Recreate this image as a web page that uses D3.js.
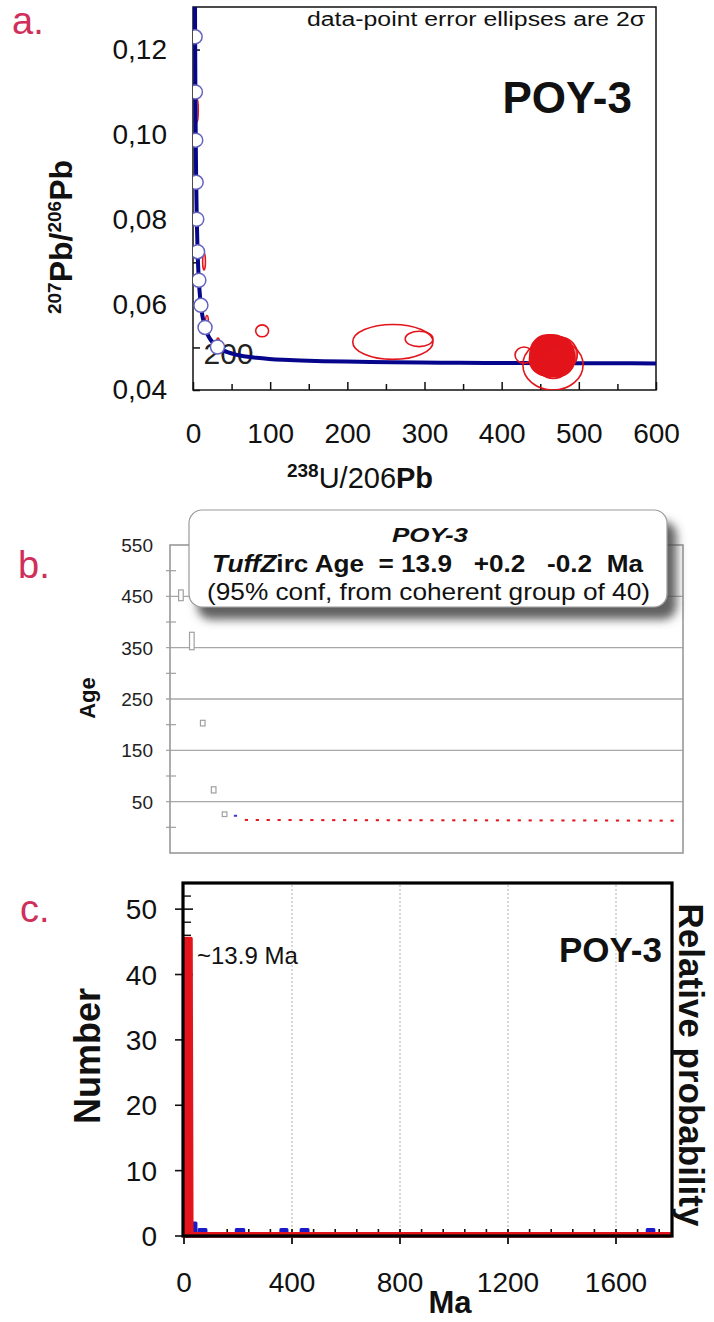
<!DOCTYPE html>
<html><head><meta charset="utf-8">
<script src="https://cdn.jsdelivr.net/npm/d3@7/dist/d3.min.js"></script>
<style>
html,body{margin:0;padding:0;background:#fff;}
svg{display:block;font-family:'Liberation Sans',Arial,Helvetica,sans-serif;}
</style></head>
<body>
<svg id="chart" width="714" height="1322"></svg>
<script>
// ---------------- DATA ----------------
// Panel a: Tera-Wasserburg concordia
const decay238 = 0.155125e-3;   // per Ma
const decay235 = 0.98485e-3;    // per Ma
const u238u235 = 137.88;
const concordiaAges = [10.5,12,14,17,20,25,30,38,46,55,65,78,90,105,120,140,160,185,210,240,280,330,400,500,600,700,800,1000,1200,1400,1600,1800,2000,2200,2400,2600];
const markerAges = [200,400,600,800,1000,1200,1400,1600,1800,2000];
const labelledAge = 200;
const aXTicks = [0,100,200,300,400,500,600];
const aXMinor = [50,150,250,350,450,550];
const aYTicks = [0.04,0.06,0.08,0.10,0.12];
const aYMinor = [0.05,0.07,0.09,0.11];
// error ellipses: [238U/206Pb, 207Pb/206Pb, half-width x, half-height y]
const ellipseOutliers = [
  [5.2,0.1057,1.6,0.0027],
  [14.3,0.0702,1.8,0.0020],
  [18.1,0.0560,1.8,0.0015],
  [32.4,0.0504,2.2,0.0018],
  [89.6,0.0539,8.4,0.0014],
  [259,0.0513,52,0.0041],
  [293,0.0520,18,0.0018],
  [429,0.0482,11.7,0.0019],
  [466.5,0.0459,39,0.0059]
];
const ellipseCluster = [
  [462,0.0480,21,0.0040],[468,0.0478,22,0.0042],[458,0.0484,20,0.0038],[472,0.0482,21,0.0039],
  [465,0.0486,23,0.0041],[460,0.0474,20,0.0037],[470,0.0472,22,0.0040],[456,0.0478,19,0.0036],
  [475,0.0476,20,0.0038],[463,0.0490,21,0.0040],[467,0.0470,23,0.0043],[459,0.0488,22,0.0041],
  [473,0.0488,20,0.0037],[461,0.0476,24,0.0044],[469,0.0484,19,0.0035],[464,0.0482,22,0.0039],
  [457,0.0472,21,0.0038],[476,0.0484,22,0.0040],[466,0.0478,20,0.0042],[471,0.0490,21,0.0036],
  [462,0.0470,20,0.0039],[468,0.0492,19,0.0037],[460,0.0482,23,0.0043],[474,0.0470,20,0.0037],
  [465,0.0474,21,0.0040],[458,0.0490,20,0.0035],[470,0.0480,24,0.0044],[463,0.0486,22,0.0038],
  [467,0.0476,21,0.0041],[472,0.0474,22,0.0039],[461,0.0486,20,0.0040],[469,0.0488,21,0.0036],
  [464,0.0472,19,0.0038],[459,0.0480,22,0.0042],[471,0.0484,20,0.0039],[466,0.0482,21,0.0045]
];
// Panel b: TuffZirc age ranking
const bOlderAges = [452,363,203,73,25.5];
const bOlderErr  = [10.5,17,5.5,6,4.5];
const bRejectAges = [22.5];
const bRejectErr  = [1];
const bCoherentAges = [14.6,14.5,14.5,14.4,14.4,14.3,14.3,14.2,14.2,14.2,14.1,14.1,14.1,14.0,14.0,14.0,14.0,13.9,13.9,13.9,13.9,13.9,13.8,13.8,13.8,13.8,13.7,13.7,13.7,13.6,13.6,13.6,13.5,13.5,13.4,13.4,13.3,13.3,13.2,13.1];
const bCoherentErr = 0.6;
const bYLabels = [50,150,250,350,450,550];
const bYGrid = [50,150,250,350,450];
const bYMinor = [0,100,200,300,400,500];
// Panel c: histogram + relative probability
const cHistBins = [[0,28,42],[30,48,2],[52,85,1],[190,225,1],[355,385,1],[430,463,1],[1712,1744,1]]; // [from Ma, to Ma, count]
const cProbAge = [0,3,26,29,1800];
const cProbVal = [0,45.5,45.5,0.35,0.35];
const cXTicks = [0,400,800,1200,1600];
const cYTicks = [0,10,20,30,40,50];

// ---------------- DRAW ----------------
const svg = d3.select('#chart');
const FONT = "'Liberation Sans',Arial,Helvetica,sans-serif";
const PINK = '#cf2f5a';
const RED = '#e3141b';
const NAVY = '#06068c';

const defs = svg.append('defs');
defs.append('clipPath').attr('id','clipA').append('rect')
  .attr('x',193).attr('y',7).attr('width',463).attr('height',383);
const sh = defs.append('filter').attr('id','shadow').attr('x','-10%').attr('y','-20%').attr('width','130%').attr('height','160%');
sh.append('feDropShadow').attr('dx',9).attr('dy',12).attr('stdDeviation',5)
  .attr('flood-color','#444').attr('flood-opacity',0.85);

// ===== Panel a =====
const xA = d3.scaleLinear().domain([0,600]).range([193,656]);
const yA = d3.scaleLinear().domain([0.04,0.13]).range([390,7]);
const gA = svg.append('g');

svg.append('text').attr('x',12).attr('y',34).attr('fill',PINK)
  .style('font-size','38px').text('a.');

// x axis
const axA = gA.append('g').attr('transform','translate(0,390)')
  .call(d3.axisBottom(xA).tickValues(aXTicks).tickSizeInner(-8).tickSizeOuter(0).tickPadding(33));
axA.select('.domain').remove();
axA.selectAll('text').style('font-size','28px').style('font-family',FONT).attr('fill','#111');
axA.selectAll('line').attr('stroke','#111').attr('stroke-width',1.5);
const axAm = gA.append('g').attr('transform','translate(0,390)')
  .call(d3.axisBottom(xA).tickValues(aXMinor).tickSizeInner(-6).tickSizeOuter(0).tickFormat(''));
axAm.select('.domain').remove();
axAm.selectAll('line').attr('stroke','#111').attr('stroke-width',1.5);

// y axis
const ayA = gA.append('g').attr('transform','translate(193,0)')
  .call(d3.axisLeft(yA).tickValues(aYTicks).tickSizeInner(-7).tickSizeOuter(0).tickPadding(26)
    .tickFormat(d=>d.toFixed(2).replace('.',',')));
ayA.select('.domain').remove();
ayA.selectAll('text').style('font-size','28px').style('font-family',FONT).attr('fill','#111');
ayA.selectAll('line').attr('stroke','#111').attr('stroke-width',1.5);
const ayAm = gA.append('g').attr('transform','translate(193,0)')
  .call(d3.axisLeft(yA).tickValues(aYMinor).tickSizeInner(-7).tickSizeOuter(0).tickFormat(''));
ayAm.select('.domain').remove();
ayAm.selectAll('line').attr('stroke','#111').attr('stroke-width',1.5);

// frame
gA.append('rect').attr('x',193).attr('y',7).attr('width',463).attr('height',383)
  .attr('fill','none').attr('stroke','#111').attr('stroke-width',1.5);

// title texts
gA.append('text').attr('x',307).attr('y',26).attr('textLength',338).attr('lengthAdjust','spacingAndGlyphs')
  .style('font-size','20px').attr('fill','#111').text('data-point error ellipses are 2σ');
gA.append('text').attr('x',632).attr('y',113).attr('text-anchor','end')
  .style('font-size','44px').style('font-weight','bold').attr('fill','#111').text('POY-3');

// axis titles
const yt = gA.append('text').attr('transform','translate(72,237) rotate(-90)')
  .attr('text-anchor','middle').attr('fill','#111').style('font-weight','bold');
yt.append('tspan').style('font-size','19px').attr('dy',-11).text('207');
yt.append('tspan').style('font-size','32px').attr('dy',11).text('Pb/');
yt.append('tspan').style('font-size','19px').attr('dy',-11).text('206');
yt.append('tspan').style('font-size','32px').attr('dy',11).text('Pb');

const xt = gA.append('text').attr('x',360).attr('y',488).attr('text-anchor','middle').attr('fill','#111');
xt.append('tspan').style('font-size','19px').style('font-weight','bold').attr('dy',-11).text('238');
xt.append('tspan').style('font-size','29px').attr('dy',11).text('U/206');
xt.append('tspan').style('font-size','29px').style('font-weight','bold').text('Pb');

// concordia
const twX = t => 1/(Math.exp(decay238*t)-1);
const twY = t => (Math.exp(decay235*t)-1)/(Math.exp(decay238*t)-1)/u238u235;
const plotA = gA.append('g').attr('clip-path','url(#clipA)');

// 200 label
const lx = xA(twX(labelledAge)), ly = yA(twY(labelledAge));
plotA.append('text').attr('x',lx-14).attr('y',ly+17).style('font-size','30px').attr('fill','#222').text(String(labelledAge));

// ellipses
function ell(sel, data, filled){
  sel.selectAll(null).data(data).join('ellipse')
    .attr('cx',d=>xA(d[0])).attr('cy',d=>yA(d[1]))
    .attr('rx',d=>Math.max(1.2, xA(d[0]+d[2])-xA(d[0])))
    .attr('ry',d=>yA(d[1]-d[3])-yA(d[1]))
    .attr('fill',filled? RED : 'none').attr('fill-opacity',filled?0.55:0)
    .attr('stroke',RED).attr('stroke-width',1.6);
}
ell(plotA.append('g'), ellipseOutliers.slice(0,4), false);

plotA.append('path')
  .datum(concordiaAges)
  .attr('d', d3.line().x(t=>xA(twX(t))).y(t=>yA(twY(t))).curve(d3.curveCatmullRom))
  .attr('fill','none').attr('stroke',NAVY).attr('stroke-width',4);

ell(plotA.append('g'), ellipseOutliers.slice(4), false);
ell(plotA.append('g'), ellipseCluster, true);

plotA.append('g').selectAll('circle').data(markerAges).join('circle')
  .attr('cx',t=>xA(twX(t))).attr('cy',t=>yA(twY(t))).attr('r',7)
  .attr('fill','#fff').attr('stroke','#6464c0').attr('stroke-width',1.5);

// ===== Panel b =====
const xB = d3.scaleLinear().domain([0,47]).range([170,683]);
const yB = d3.scaleLinear().domain([-50,550]).range([853,545]);
const gB = svg.append('g');
svg.append('text').attr('x',18).attr('y',578).attr('fill',PINK).style('font-size','38px').text('b.');

gB.append('g').selectAll('line').data(bYGrid).join('line')
  .attr('x1',166).attr('x2',683).attr('y1',d=>yB(d)).attr('y2',d=>yB(d))
  .attr('stroke','#a8a8a8').attr('stroke-width',1.3);
gB.append('g').selectAll('line').data(bYMinor).join('line')
  .attr('x1',166).attr('x2',176).attr('y1',d=>yB(d)).attr('y2',d=>yB(d))
  .attr('stroke','#a8a8a8').attr('stroke-width',1.3);
gB.append('rect').attr('x',170).attr('y',545).attr('width',513).attr('height',308)
  .attr('fill','none').attr('stroke','#999').attr('stroke-width',1.6);
gB.append('g').selectAll('text').data(bYLabels).join('text')
  .attr('x',153).attr('y',d=>yB(d)).attr('dy','0.36em').attr('text-anchor','end')
  .style('font-size','19px').attr('fill','#222').text(d=>d);
gB.append('text').attr('transform','translate(95,698) rotate(-90)').attr('text-anchor','middle')
  .style('font-size','22px').style('font-weight','bold').attr('fill','#111').text('Age');

// older (grey) boxes
gB.append('g').selectAll('rect').data(bOlderAges).join('rect')
  .attr('x',(d,i)=>xB(i+1)-2.3).attr('width',4.6)
  .attr('y',(d,i)=>yB(d+bOlderErr[i])).attr('height',(d,i)=>yB(d-bOlderErr[i])-yB(d+bOlderErr[i]))
  .attr('fill','#fff').attr('stroke','#a0a0a0').attr('stroke-width',1.2);
// rejected (blue)
const nOld = bOlderAges.length;
gB.append('g').selectAll('rect').data(bRejectAges).join('rect')
  .attr('x',(d,i)=>xB(nOld+i+1)-1.6).attr('width',3.2)
  .attr('y',(d,i)=>yB(d+bRejectErr[i])-0.5).attr('height',(d,i)=>Math.max(2,yB(d-bRejectErr[i])-yB(d+bRejectErr[i])))
  .attr('fill','#3a3ad0');
// coherent (red)
const nPre = nOld + bRejectAges.length;
gB.append('g').selectAll('rect').data(bCoherentAges).join('rect')
  .attr('x',(d,i)=>xB(nPre+i+1)-1.6).attr('width',3.2)
  .attr('y',d=>yB(d+bCoherentErr)-0.6).attr('height',d=>Math.max(2,yB(d-bCoherentErr)-yB(d+bCoherentErr)))
  .attr('fill',RED);

// annotation box
const box = gB.append('g');
box.append('rect').attr('x',189).attr('y',510).attr('width',478).attr('height',97).attr('rx',13)
  .attr('fill','#fff').attr('stroke','#9a9a9a').attr('stroke-width',1.2).attr('filter','url(#shadow)');
box.append('text').attr('x',430).attr('y',542).attr('text-anchor','middle')
  .attr('textLength',76).attr('lengthAdjust','spacingAndGlyphs')
  .style('font-size','20px').style('font-weight','bold').style('font-style','italic').attr('fill','#111').text('POY-3');
const l2 = box.append('text').attr('x',212).attr('y',572).attr('textLength',431).attr('lengthAdjust','spacingAndGlyphs')
  .style('font-size','24px').style('font-weight','bold').style('white-space','pre').attr('fill','#111');
l2.append('tspan').style('font-style','italic').text('TuffZ');
l2.append('tspan').text('irc Age  = 13.9   +0.2   -0.2  Ma');
box.append('text').attr('x',207).attr('y',600).attr('textLength',443).attr('lengthAdjust','spacingAndGlyphs')
  .style('font-size','24px').attr('fill','#111').text('(95% conf, from coherent group of 40)');

// ===== Panel c =====
const xC = d3.scaleLinear().domain([0,1800]).range([184,670]);
const yC = d3.scaleLinear().domain([0,54]).range([1236,883]);
const gC = svg.append('g');
svg.append('text').attr('x',20).attr('y',922).attr('fill',PINK).style('font-size','38px').text('c.');

gC.append('g').selectAll('line').data(cXTicks.slice(1)).join('line')
  .attr('x1',d=>xC(d)).attr('x2',d=>xC(d)).attr('y1',885).attr('y2',1235)
  .attr('stroke','#b0b0b0').attr('stroke-width',1).attr('stroke-dasharray','2,2');

// axes ticks (drawn under the data)
const cXMinor = d3.range(80,1800,80).filter(v=>v%400!==0);
gC.append('g').selectAll('line').data(cXMinor).join('line')
  .attr('x1',d=>xC(d)).attr('x2',d=>xC(d)).attr('y1',1229).attr('y2',1236)
  .attr('stroke','#111').attr('stroke-width',1.6);
gC.append('g').selectAll('line').data(cXTicks).join('line')
  .attr('x1',d=>xC(d)).attr('x2',d=>xC(d)).attr('y1',1229).attr('y2',1244)
  .attr('stroke','#111').attr('stroke-width',1.8);
const cYMinor = d3.range(2,55,2).filter(v=>v%10!==0);
gC.append('g').selectAll('line').data(cYMinor).join('line')
  .attr('x1',183).attr('x2',191).attr('y1',d=>yC(d)).attr('y2',d=>yC(d))
  .attr('stroke','#111').attr('stroke-width',1.4);
gC.append('g').selectAll('line').data(cYTicks).join('line')
  .attr('x1',175).attr('x2',193).attr('y1',d=>yC(d)).attr('y2',d=>yC(d))
  .attr('stroke','#111').attr('stroke-width',1.6);

// histogram (blue)
gC.append('g').selectAll('rect').data(cHistBins).join('rect')
  .attr('x',d=>xC(d[0])+1).attr('width',d=>Math.max(1,xC(d[1])-xC(d[0])-2))
  .attr('y',d=>yC(d[2])).attr('height',d=>yC(0)-yC(d[2]))
  .attr('fill','#1a1ac8').attr('stroke','#1a1ac8').attr('stroke-width',3).attr('stroke-linejoin','round');

// relative probability (red)
const probPts = cProbAge.map((a,i)=>[a,cProbVal[i]]);
gC.append('path').datum(probPts)
  .attr('d', d3.area().x(d=>xC(d[0])).y0(yC(0)).y1(d=>yC(d[1])))
  .attr('fill',RED).attr('stroke',RED).attr('stroke-width',3.5).attr('stroke-linejoin','round');

// frame
gC.append('rect').attr('x',183).attr('y',883).attr('width',489).attr('height',353)
  .attr('fill','none').attr('stroke','#000').attr('stroke-width',3.2);

gC.append('g').selectAll('text').data(cXTicks).join('text')
  .attr('x',d=>xC(d)).attr('y',1292).attr('text-anchor','middle')
  .style('font-size','28px').attr('fill','#111').text(d=>d);
gC.append('g').selectAll('text').data(cYTicks).join('text')
  .attr('x',157).attr('y',d=>yC(d)).attr('dy','0.36em').attr('text-anchor','end')
  .style('font-size','28px').attr('fill','#111').text(d=>d);

gC.append('text').attr('x',450).attr('y',1313).attr('text-anchor','middle')
  .style('font-size','31px').style('font-weight','bold').attr('fill','#111').text('Ma');
gC.append('text').attr('transform','translate(100,1056) rotate(-90)').attr('text-anchor','middle')
  .style('font-size','36px').style('font-weight','bold').attr('fill','#111').text('Number');
gC.append('text').attr('transform','translate(679,1065) rotate(90)').attr('text-anchor','middle')
  .style('font-size','35px').style('font-weight','bold').attr('fill','#111').text('Relative probability');
gC.append('text').attr('x',662).attr('y',962).attr('text-anchor','end')
  .style('font-size','35px').style('font-weight','bold').attr('fill','#111').text('POY-3');
gC.append('text').attr('x',197).attr('y',964)
  .style('font-size','24px').attr('fill','#111').text('~13.9 Ma');
</script>
</body></html>
